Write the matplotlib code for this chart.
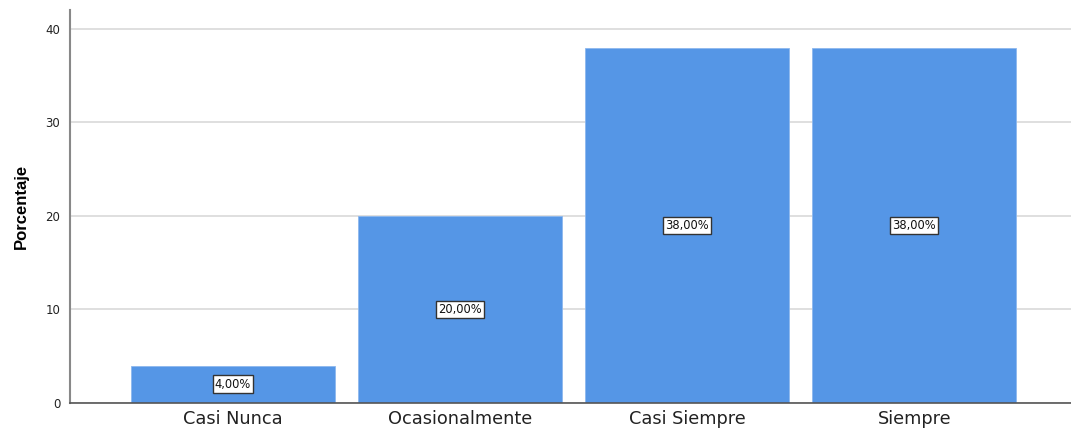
import matplotlib
matplotlib.use("Agg")
import matplotlib.pyplot as plt
import numpy as np

categorias = ["Casi Nunca", "Ocasionalmente", "Casi Siempre", "Siempre"]
porcentajes = [4.0, 20.0, 38.0, 38.0]
etiquetas = ["4,00%", "20,00%", "38,00%", "38,00%"]

plt.rcParams['font.family'] = ['DejaVu Sans']

fig = plt.figure(figsize=(10.71, 4.30), dpi=100)
ax = fig.add_axes([70 / 1071, 1 - 403 / 430, 1 - 70 / 1071, (403 - 10) / 430])

x = np.arange(len(categorias))
ax.set_axisbelow(True)
ax.yaxis.grid(True, color="#d9d9d9", linewidth=1.2)
ax.bar(x, porcentajes, width=0.9, color="#5596e6", edgecolor="#8db8ee", linewidth=0.6)

for xi, v, txt in zip(x, porcentajes, etiquetas):
    ax.text(xi, v / 2, txt, ha="center", va="center", fontsize=8.3, color="#111111",
            bbox=dict(boxstyle="square,pad=0.2", facecolor="white", edgecolor="#333333", linewidth=1))

ax.set_xlim(-0.718, 3.69)
ax.set_ylim(0, 42.03)
ax.set_yticks([0, 10, 20, 30, 40])
ax.set_xticks(x)
ax.set_xticklabels(categorias, fontsize=12.8, color="#222222")
ax.tick_params(axis="y", length=0, labelsize=8.5, pad=7, labelcolor="#222222")
ax.tick_params(axis="x", length=0, pad=5)
ax.set_ylabel("Porcentaje", fontsize=12, fontweight="bold", labelpad=12,
              family=["Liberation Sans", "DejaVu Sans"])

for s in ["top", "right"]:
    ax.spines[s].set_visible(False)
ax.spines["left"].set_color("#888888")
ax.spines["left"].set_linewidth(1.5)
ax.spines["bottom"].set_color("#555555")
ax.spines["bottom"].set_linewidth(1.2)

fig.savefig("out.png", dpi=100)
